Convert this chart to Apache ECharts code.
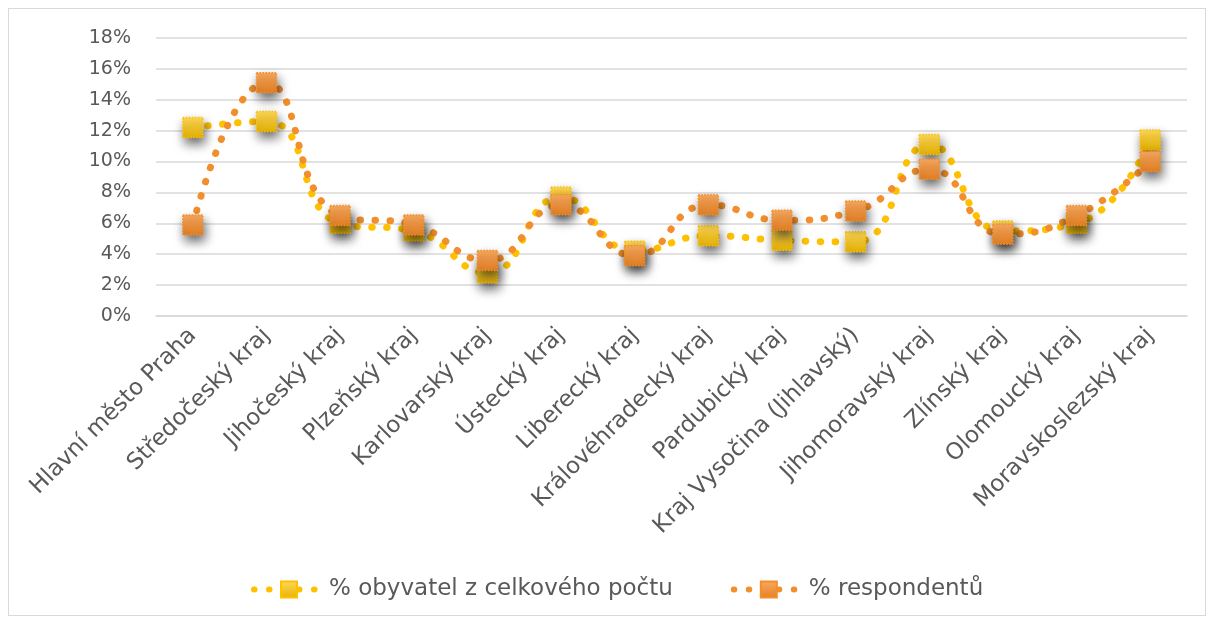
<!DOCTYPE html>
<html>
<head>
<meta charset="utf-8">
<script src="https://cdn.jsdelivr.net/npm/echarts@6/dist/echarts.min.js"></script>
<style>
  html, body { margin: 0; padding: 0; background: #fff; }
  #chart { position: absolute; left: 8px; top: 8px; width: 1196px; height: 606px; border: 1px solid #d9d9d9; }
</style>
</head>
<body>
<div id="chart"></div>
<script>
// kraje
const kraje = ['Hlavní město Praha', 'Středočeský kraj', 'Jihočeský kraj', 'Plzeňský kraj', 'Karlovarský kraj',
    'Ústecký kraj', 'Liberecký kraj', 'Královéhradecký kraj', 'Pardubický kraj', 'Kraj Vysočina (Jihlavský)',
    'Jihomoravský kraj', 'Zlínský kraj', 'Olomoucký kraj', 'Moravskoslezský kraj'];
// % obyvatel z celkového počtu
const obyvatel = [12.2, 12.6, 6.0, 5.5, 2.8, 7.7, 4.2, 5.2, 4.9, 4.8, 11.1, 5.5, 6.0, 11.4];
// % respondentů
const respondenti = [5.9, 15.1, 6.5, 5.9, 3.6, 7.2, 3.9, 7.2, 6.2, 6.8, 9.5, 5.3, 6.5, 10.0];

const font = 'DejaVu Sans';
const textColor = '#595959';

function grad(top, bottom) {
    return new echarts.graphic.LinearGradient(0, 0, 0, 1, [
        { offset: 0, color: top },
        { offset: 1, color: bottom }
    ]);
}

function serie(name, data, lineColor, top, bottom) {
    return {
        name: name,
        type: 'line',
        data: data,
        smooth: true,
        symbol: 'rect',
        symbolSize: 20,
        lineStyle: { color: lineColor, width: 7, type: [0.5, 14.5], cap: 'round', join: 'round' },
        itemStyle: {
            color: grad(top, bottom),
            borderColor: lineColor,
            borderWidth: 1.5,
            borderType: 'dotted',
            shadowColor: 'rgba(0,0,0,0.6)',
            shadowBlur: 11,
            shadowOffsetX: 2,
            shadowOffsetY: 6
        },
        emphasis: { disabled: true }
    };
}

const myChart = echarts.init(document.getElementById('chart'));
const option = {
    animation: false,
    grid: { left: 147, right: 18, top: 29, bottom: 299 },
    legend: {
        bottom: 9,
        left: 237,
        itemWidth: 70,
        itemHeight: 20,
        itemGap: 58,
        lineStyle: { width: 6, type: [0.5, 14.5], cap: 'round' },
        textStyle: { fontFamily: font, fontSize: 23, color: textColor },
        data: ['% obyvatel z celkového počtu', '% respondentů']
    },
    xAxis: {
        type: 'category',
        data: kraje,
        boundaryGap: true,
        axisLine: { lineStyle: { color: '#d9d9d9', width: 1.5 } },
        axisTick: { show: false },
        axisLabel: {
            rotate: 45,
            interval: 0,
            margin: 16,
            fontFamily: font,
            fontSize: 23,
            color: textColor
        }
    },
    yAxis: {
        type: 'value',
        min: 0,
        max: 18,
        interval: 2,
        axisLine: { show: false },
        axisTick: { show: false },
        splitLine: { lineStyle: { color: '#d9d9d9', width: 1.5 } },
        axisLabel: {
            formatter: '{value}%',
            margin: 25,
            fontFamily: font,
            fontSize: 19,
            color: textColor
        }
    },
    series: [
        serie('% obyvatel z celkového počtu', obyvatel, '#FFC000', '#FFD95A', '#E8B300'),
        serie('% respondentů', respondenti, '#F28E2B', '#F9AA60', '#E57F22')
    ]
};
option && myChart.setOption(option);
</script>
</body>
</html>
